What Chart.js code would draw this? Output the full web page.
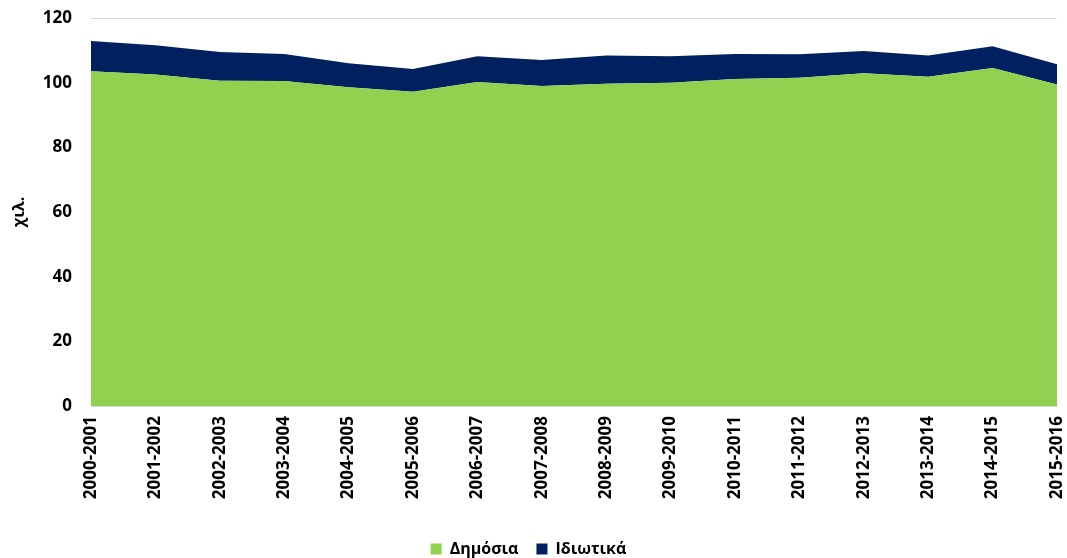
<!DOCTYPE html>
<html>
<head>
<meta charset="utf-8">
<script src="https://cdn.jsdelivr.net/npm/chart.js@4/dist/chart.umd.min.js"></script>
<style>
  html, body { margin: 0; padding: 0; background: #fff; }
  #wrap { width: 1067px; height: 558px; }
</style>
</head>
<body>
<div id="wrap"><canvas id="chart"></canvas></div>
<script>
const years = [
  "2000-2001", "2001-2002", "2002-2003", "2003-2004", "2004-2005", "2005-2006",
  "2006-2007", "2007-2008", "2008-2009", "2009-2010", "2010-2011", "2011-2012",
  "2012-2013", "2013-2014", "2014-2015", "2015-2016"
];
const publicSchools = [103.5, 102.5, 100.6, 100.5, 98.6, 97.2, 100.2, 99.0, 99.7, 100.0, 101.1, 101.5, 102.9, 101.8, 104.5, 99.4];
const privateSchools = [9.4, 9.1, 8.9, 8.4, 7.4, 7.0, 8.0, 8.0, 8.7, 8.2, 7.8, 7.3, 6.9, 6.6, 6.8, 6.3];

const fontFamily = "'Open Sans', 'Liberation Sans', sans-serif";

new Chart(document.getElementById("chart").getContext("2d"), {
  type: "line",
  data: {
    labels: years,
    datasets: [
      {
        label: "Δημόσια",
        data: publicSchools,
        backgroundColor: "#92d050",
        borderWidth: 0,
        pointRadius: 0,
        fill: "origin",
        tension: 0
      },
      {
        label: "Ιδιωτικά",
        data: privateSchools,
        backgroundColor: "#002060",
        borderWidth: 0,
        pointRadius: 0,
        fill: "-1",
        tension: 0
      }
    ]
  },
  options: {
    responsive: true,
    maintainAspectRatio: false,
    animation: false,
    layout: { padding: { left: 0, right: 10, top: 18, bottom: -9 } },
    plugins: {
      legend: {
        position: "bottom",
        labels: {
          color: "#000",
          boxWidth: 11,
          boxHeight: 11,
          padding: 18,
          font: { family: fontFamily, size: 16, weight: "bold" }
        }
      },
      tooltip: { enabled: false }
    },
    scales: {
      x: {
        offset: false,
        grid: { display: false, drawTicks: true, tickLength: 6 },
        border: { color: "#d9d9d9" },
        ticks: {
          color: "#000",
          maxRotation: 90,
          minRotation: 90,
          autoSkip: false,
          padding: 4,
          font: { family: fontFamily, size: 17, weight: "bold" }
        },
        afterFit: axis => {
          axis.height = 117;
          axis.paddingLeft = 0;
          axis.paddingRight = 0;
        }
      },
      y: {
        stacked: true,
        min: 0,
        max: 120,
        grid: { color: "#d9d9d9", drawTicks: false },
        border: { display: false },
        ticks: {
          stepSize: 20,
          color: "#000",
          padding: 19,
          font: { family: fontFamily, size: 17, weight: "bold" }
        },
        title: {
          display: true,
          text: "χιλ.",
          color: "#000",
          padding: { top: 10, bottom: 0 },
          font: { family: fontFamily, size: 16, weight: "bold" }
        },
        afterFit: axis => {
          axis.width = 91;
          axis.paddingTop = 0;
          axis.paddingBottom = 0;
        }
      }
    }
  }
});
</script>
</body>
</html>
